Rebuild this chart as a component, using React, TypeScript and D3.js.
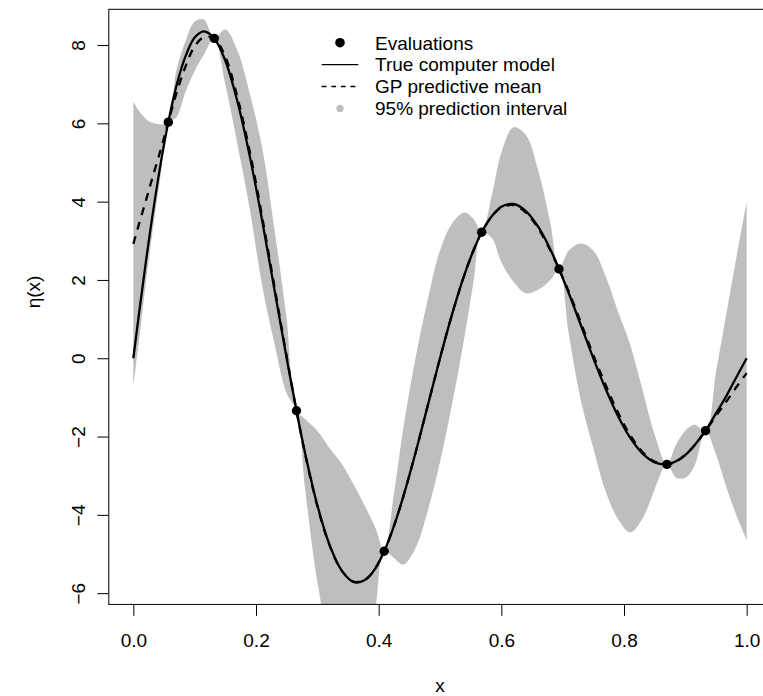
import React, { useEffect, useRef } from 'react';
import * as d3 from 'd3';

const xGrid = [0, 0.01, 0.02, 0.03, 0.045, 0.057, 0.07, 0.085, 0.1, 0.115, 0.132, 0.15, 0.17, 0.19, 0.21, 0.23, 0.25, 0.266, 0.28, 0.3, 0.32, 0.34, 0.36, 0.38, 0.395, 0.409, 0.425, 0.44, 0.46, 0.48, 0.5, 0.52, 0.54, 0.555, 0.568, 0.585, 0.6, 0.62, 0.64, 0.66, 0.68, 0.694, 0.71, 0.73, 0.75, 0.77, 0.79, 0.81, 0.83, 0.85, 0.87, 0.885, 0.9, 0.915, 0.933, 0.95, 0.967, 0.983, 1.0];

const trueModel = [0, 1.23, 2.41, 3.52, 5.01, 6.03, 6.94, 7.71, 8.19, 8.35, 8.17, 7.6, 6.54, 5.15, 3.52, 1.76, 0, -1.34, -2.42, -3.75, -4.77, -5.43, -5.72, -5.64, -5.36, -4.93, -4.28, -3.54, -2.42, -1.21, 0, 1.14, 2.14, 2.77, 3.22, 3.64, 3.87, 3.94, 3.76, 3.36, 2.78, 2.28, 1.66, 0.83, 0, -0.78, -1.47, -2.03, -2.43, -2.66, -2.71, -2.63, -2.47, -2.22, -1.85, -1.41, -0.96, -0.49, 0];

const gpMean = [2.92, 3.47, 4.0, 4.55, 5.35, 6.03, 6.75, 7.45, 7.97, 8.2, 8.17, 7.7, 6.65, 5.27, 3.62, 1.84, 0.05, -1.34, -2.44, -3.78, -4.78, -5.43, -5.71, -5.63, -5.35, -4.93, -4.28, -3.54, -2.42, -1.21, 0, 1.14, 2.14, 2.77, 3.22, 3.63, 3.85, 3.91, 3.72, 3.32, 2.75, 2.28, 1.7, 0.9, 0.08, -0.68, -1.38, -1.96, -2.39, -2.64, -2.71, -2.64, -2.47, -2.22, -1.85, -1.47, -1.1, -0.74, -0.38];

const upper95 = [6.55, 6.3, 6.12, 6.02, 5.97, 6.03, 7.35, 8.1, 8.6, 8.65, 8.17, 8.4, 7.85, 6.75, 5.38, 3.3, 1.0, -1.34, -1.55, -1.85, -2.3, -2.7, -3.25, -3.85, -4.35, -4.93, -3.45, -1.8, 0.0, 1.5, 2.75, 3.45, 3.72, 3.55, 3.22, 4.2, 5.25, 5.9, 5.7, 4.8, 3.45, 2.28, 2.75, 2.93, 2.75, 2.1, 1.2, 0.35, -0.8, -1.95, -2.71, -2.2, -1.85, -1.7, -1.85, -0.35, 1.15, 2.55, 4.0];

const lower95 = [-0.72, 0.55, 1.88, 3.08, 4.73, 6.03, 6.15, 6.8, 7.34, 7.75, 8.17, 7.0, 5.45, 3.79, 1.86, 0.38, -0.9, -1.34, -3.33, -5.71, -7.26, -8.16, -8.17, -7.41, -6.35, -4.93, -5.1, -5.27, -4.85, -3.9, -2.65, -1.15, 0.55, 1.99, 3.22, 3.06, 2.45, 1.95, 1.66, 1.75, 2.0, 2.28, 0.62, -1.1, -2.3, -3.4, -4.1, -4.45, -4.1, -3.35, -2.71, -3.05, -3.05, -2.75, -1.85, -2.45, -3.3, -4.0, -4.65];

const evalX = [0.057, 0.132, 0.266, 0.409, 0.568, 0.694, 0.87, 0.933];
const evalY = [6.03, 8.17, -1.34, -4.93, 3.22, 2.28, -2.71, -1.85];

const xTicks = [0, 0.2, 0.4, 0.6, 0.8, 1.0];
const yTicks = [-6, -4, -2, 0, 2, 4, 6, 8];
const legendLabels = ['Evaluations', 'True computer model', 'GP predictive mean', '95% prediction interval'];

const W = 763;
const H = 696;
const FONT = '"Liberation Sans", Arial, Helvetica, sans-serif';
const BAND = '#bebebe';

const App: React.FC = () => {
  const svgRef = useRef<SVGSVGElement>(null);

  useEffect(() => {
    const svg = d3.select(svgRef.current);
    svg.selectAll('*').remove();

    const plot = { left: 108.8, right: 771.2, top: 9.3, bottom: 604.4 };

    // R-style 4% padding around the data range
    const x = d3.scaleLinear().domain([-0.04, 1.04]).range([plot.left, plot.right]);
    const y = d3.scaleLinear().domain([-6.287, 8.913]).range([plot.bottom, plot.top]);

    svg.append('defs').append('clipPath').attr('id', 'plot-clip')
      .append('rect')
      .attr('x', plot.left).attr('y', plot.top)
      .attr('width', plot.right - plot.left).attr('height', plot.bottom - plot.top);

    const g = svg.append('g').attr('clip-path', 'url(#plot-clip)');
    const idx = d3.range(xGrid.length);

    const band = d3.area<number>()
      .x(i => x(xGrid[i]))
      .y0(i => y(lower95[i]))
      .y1(i => y(upper95[i]))
      .curve(d3.curveCatmullRom.alpha(0.5));

    g.append('path').attr('d', band(idx)).attr('fill', BAND).attr('stroke', 'none');

    const line = (vals: number[]) => d3.line<number>()
      .x(i => x(xGrid[i]))
      .y(i => y(vals[i]))
      .curve(d3.curveCatmullRom.alpha(0.5))(idx);

    g.append('path').attr('d', line(gpMean))
      .attr('fill', 'none').attr('stroke', '#000').attr('stroke-width', 2.3)
      .attr('stroke-dasharray', '8,7');

    g.append('path').attr('d', line(trueModel))
      .attr('fill', 'none').attr('stroke', '#000').attr('stroke-width', 2.3);

    g.selectAll('circle.eval')
      .data(evalX)
      .join('circle')
      .attr('class', 'eval')
      .attr('cx', d => x(d))
      .attr('cy', (_, i) => y(evalY[i]))
      .attr('r', 4.7)
      .attr('fill', '#000');

    // box (right edge falls outside the window, as in the original)
    svg.append('rect')
      .attr('x', plot.left).attr('y', plot.top)
      .attr('width', plot.right - plot.left).attr('height', plot.bottom - plot.top)
      .attr('fill', 'none').attr('stroke', '#000').attr('stroke-width', 1);

    const xAxis = svg.append('g')
      .attr('transform', `translate(0,${plot.bottom})`)
      .call(d3.axisBottom(x).tickValues(xTicks).tickFormat(d3.format('.1f')).tickSize(11.4));
    xAxis.select('.domain').remove();
    xAxis.selectAll('line').attr('stroke', '#000');
    xAxis.selectAll('text')
      .attr('y', 42.3).attr('dy', null)
      .attr('fill', '#000')
      .style('font-family', FONT).style('font-size', '19px');

    const yAxis = svg.append('g')
      .attr('transform', `translate(${plot.left},0)`)
      .call(d3.axisLeft(y).tickValues(yTicks).tickFormat(d3.format('d')).tickSize(11.4));
    yAxis.select('.domain').remove();
    yAxis.selectAll('line').attr('stroke', '#000');
    yAxis.selectAll('text')
      .attr('x', null).attr('dy', null)
      .attr('transform', 'translate(-23.5,0) rotate(-90)')
      .attr('text-anchor', 'middle')
      .attr('fill', '#000')
      .style('font-family', FONT).style('font-size', '19px');

    svg.append('text')
      .attr('x', (plot.left + plot.right) / 2).attr('y', 691.7)
      .attr('text-anchor', 'middle')
      .style('font-family', FONT).style('font-size', '19px')
      .text('x');

    svg.append('text')
      .attr('transform', 'translate(40,292) rotate(-90)')
      .attr('text-anchor', 'middle')
      .style('font-family', FONT).style('font-size', '19px')
      .text('η(x)');

    // legend
    const lg = svg.append('g');
    const rowY = (i: number) => 42.7 + i * 21.9;
    const symX = 340;
    lg.append('circle').attr('cx', symX).attr('cy', rowY(0)).attr('r', 4.8).attr('fill', '#000');
    lg.append('line')
      .attr('x1', symX - 18.3).attr('x2', symX + 18.3)
      .attr('y1', rowY(1)).attr('y2', rowY(1))
      .attr('stroke', '#000').attr('stroke-width', 1.3);
    lg.append('line')
      .attr('x1', symX - 18.3).attr('x2', symX + 18.3)
      .attr('y1', rowY(2)).attr('y2', rowY(2))
      .attr('stroke', '#000').attr('stroke-width', 1.3)
      .attr('stroke-dasharray', '4.8,4.8');
    lg.append('circle').attr('cx', symX).attr('cy', rowY(3)).attr('r', 3.6).attr('fill', BAND);

    lg.selectAll('text')
      .data(legendLabels)
      .join('text')
      .attr('x', 375)
      .attr('y', (_, i) => rowY(i) + 6.8)
      .style('font-family', FONT).style('font-size', '19px')
      .text(d => d);
  }, []);

  return (
    <svg
      ref={svgRef}
      width={W}
      height={H}
      style={{ position: 'absolute', left: 0, top: 0, background: '#fff' }}
    />
  );
};

export default App;
